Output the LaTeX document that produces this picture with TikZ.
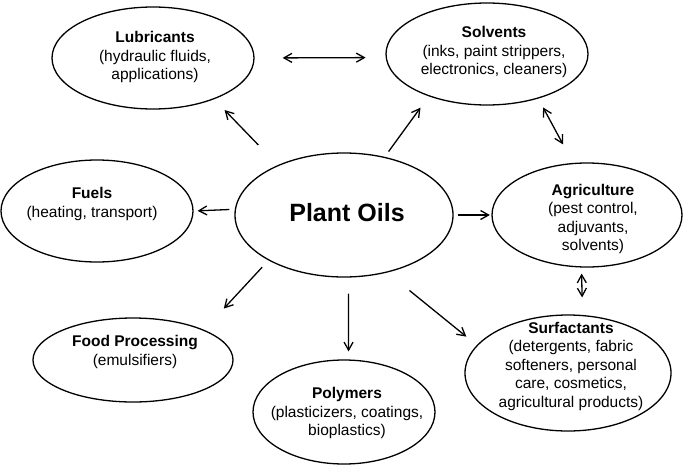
\documentclass[tikz,border=0pt]{standalone}
\usepackage{fontspec}
\setmainfont{Liberation Sans}
\usetikzlibrary{shapes.geometric,arrows.meta}
\begin{document}
\begin{tikzpicture}[x=1pt,y=-1pt,
  oval/.style={ellipse,draw,line width=1.3pt,inner sep=0pt},
  lbl/.style={align=center,font=\fontsize{15.5}{18.5}\selectfont,inner sep=0pt},
  arr/.style={line width=1.3pt,-{Straight Barb[length=8pt,width=9pt]}},
  darr/.style={line width=1.3pt,{Straight Barb[length=8pt,width=9pt]}-{Straight Barb[length=8pt,width=9pt]}}]
\useasboundingbox (0,0) rectangle (685,466);
% ellipses
\node[oval,minimum width=218pt,minimum height=124pt] (plant) at (344,215) {};
\node[oval,minimum width=202pt,minimum height=102pt] (lub) at (153,58) {};
\node[oval,minimum width=202pt,minimum height=102pt] (solv) at (487,54) {};
\node[oval,minimum width=192pt,minimum height=102pt] (fuel) at (97,211) {};
\node[oval,minimum width=190pt,minimum height=104pt] (agri) at (587,215) {};
\node[oval,minimum width=200pt,minimum height=84pt] (food) at (133,360) {};
\node[oval,minimum width=182pt,minimum height=104pt] (poly) at (344,412) {};
\node[oval,minimum width=206pt,minimum height=116pt] (surf) at (568,373) {};
% labels
\node[inner sep=0pt,font=\fontsize{25}{30}\selectfont\bfseries] (plantT) at (347,213) {Plant Oils};
\node[lbl] (lubT) at (155,57) {\textbf{Lubricants}\\(hydraulic fluids,\\applications)};
\node[lbl] (solvT) at (494,52) {\textbf{Solvents}\\(inks, paint strippers,\\electronics, cleaners)};
\node[lbl] (fuelT) at (92,204) {\textbf{Fuels}\\(heating, transport)};
\node[lbl] (agriT) at (593,219) {\textbf{Agriculture}\\(pest control,\\adjuvants,\\solvents)};
\node[lbl] (foodT) at (135,352) {\textbf{Food Processing}\\(emulsifiers)};
\node[lbl] (polyT) at (347,413) {\textbf{Polymers}\\(plasticizers, coatings,\\bioplastics)};
\node[lbl] (surfT) at (571,366) {\textbf{Surfactants}\\(detergents, fabric\\softeners, personal\\care, cosmetics,\\agricultural products)};
% connectors
\draw[arr,shorten <=28pt,shorten >=15pt] (plant.143.6) -- (lub.-34.7);
\draw[arr,shorten <=6.5pt,shorten >=14pt] (plant.55.9) -- (solv.216);
\draw[darr,shorten <=28pt,shorten >=20pt] (lub.0.3) -- (solv.182);
\draw[darr,shorten <=10pt,shorten >=21pt] (solv.-41.4) -- (agri.105);
\draw[arr,shorten <=5.4pt,shorten >=4pt] (plant.177.4) -- (fuel.0.6);
\draw[arr,shorten <=4pt,shorten >=1.5pt] (plant.east) -- (agri.west);
\draw[arr,shorten <=9.3pt,shorten >=29pt] (plant.211.3) -- (food.23.2);
\draw[arr,shorten <=16pt,shorten >=8pt] (plant.-86.3) -- (poly.85.6);
\draw[arr,shorten <=28.5pt,shorten >=13.5pt] (plant.-53.9) -- (surf.163);
\draw[darr,shorten <=6pt,shorten >=17.5pt] (agri.264.5) -- (surf.76.3);
\end{tikzpicture}
\end{document}
